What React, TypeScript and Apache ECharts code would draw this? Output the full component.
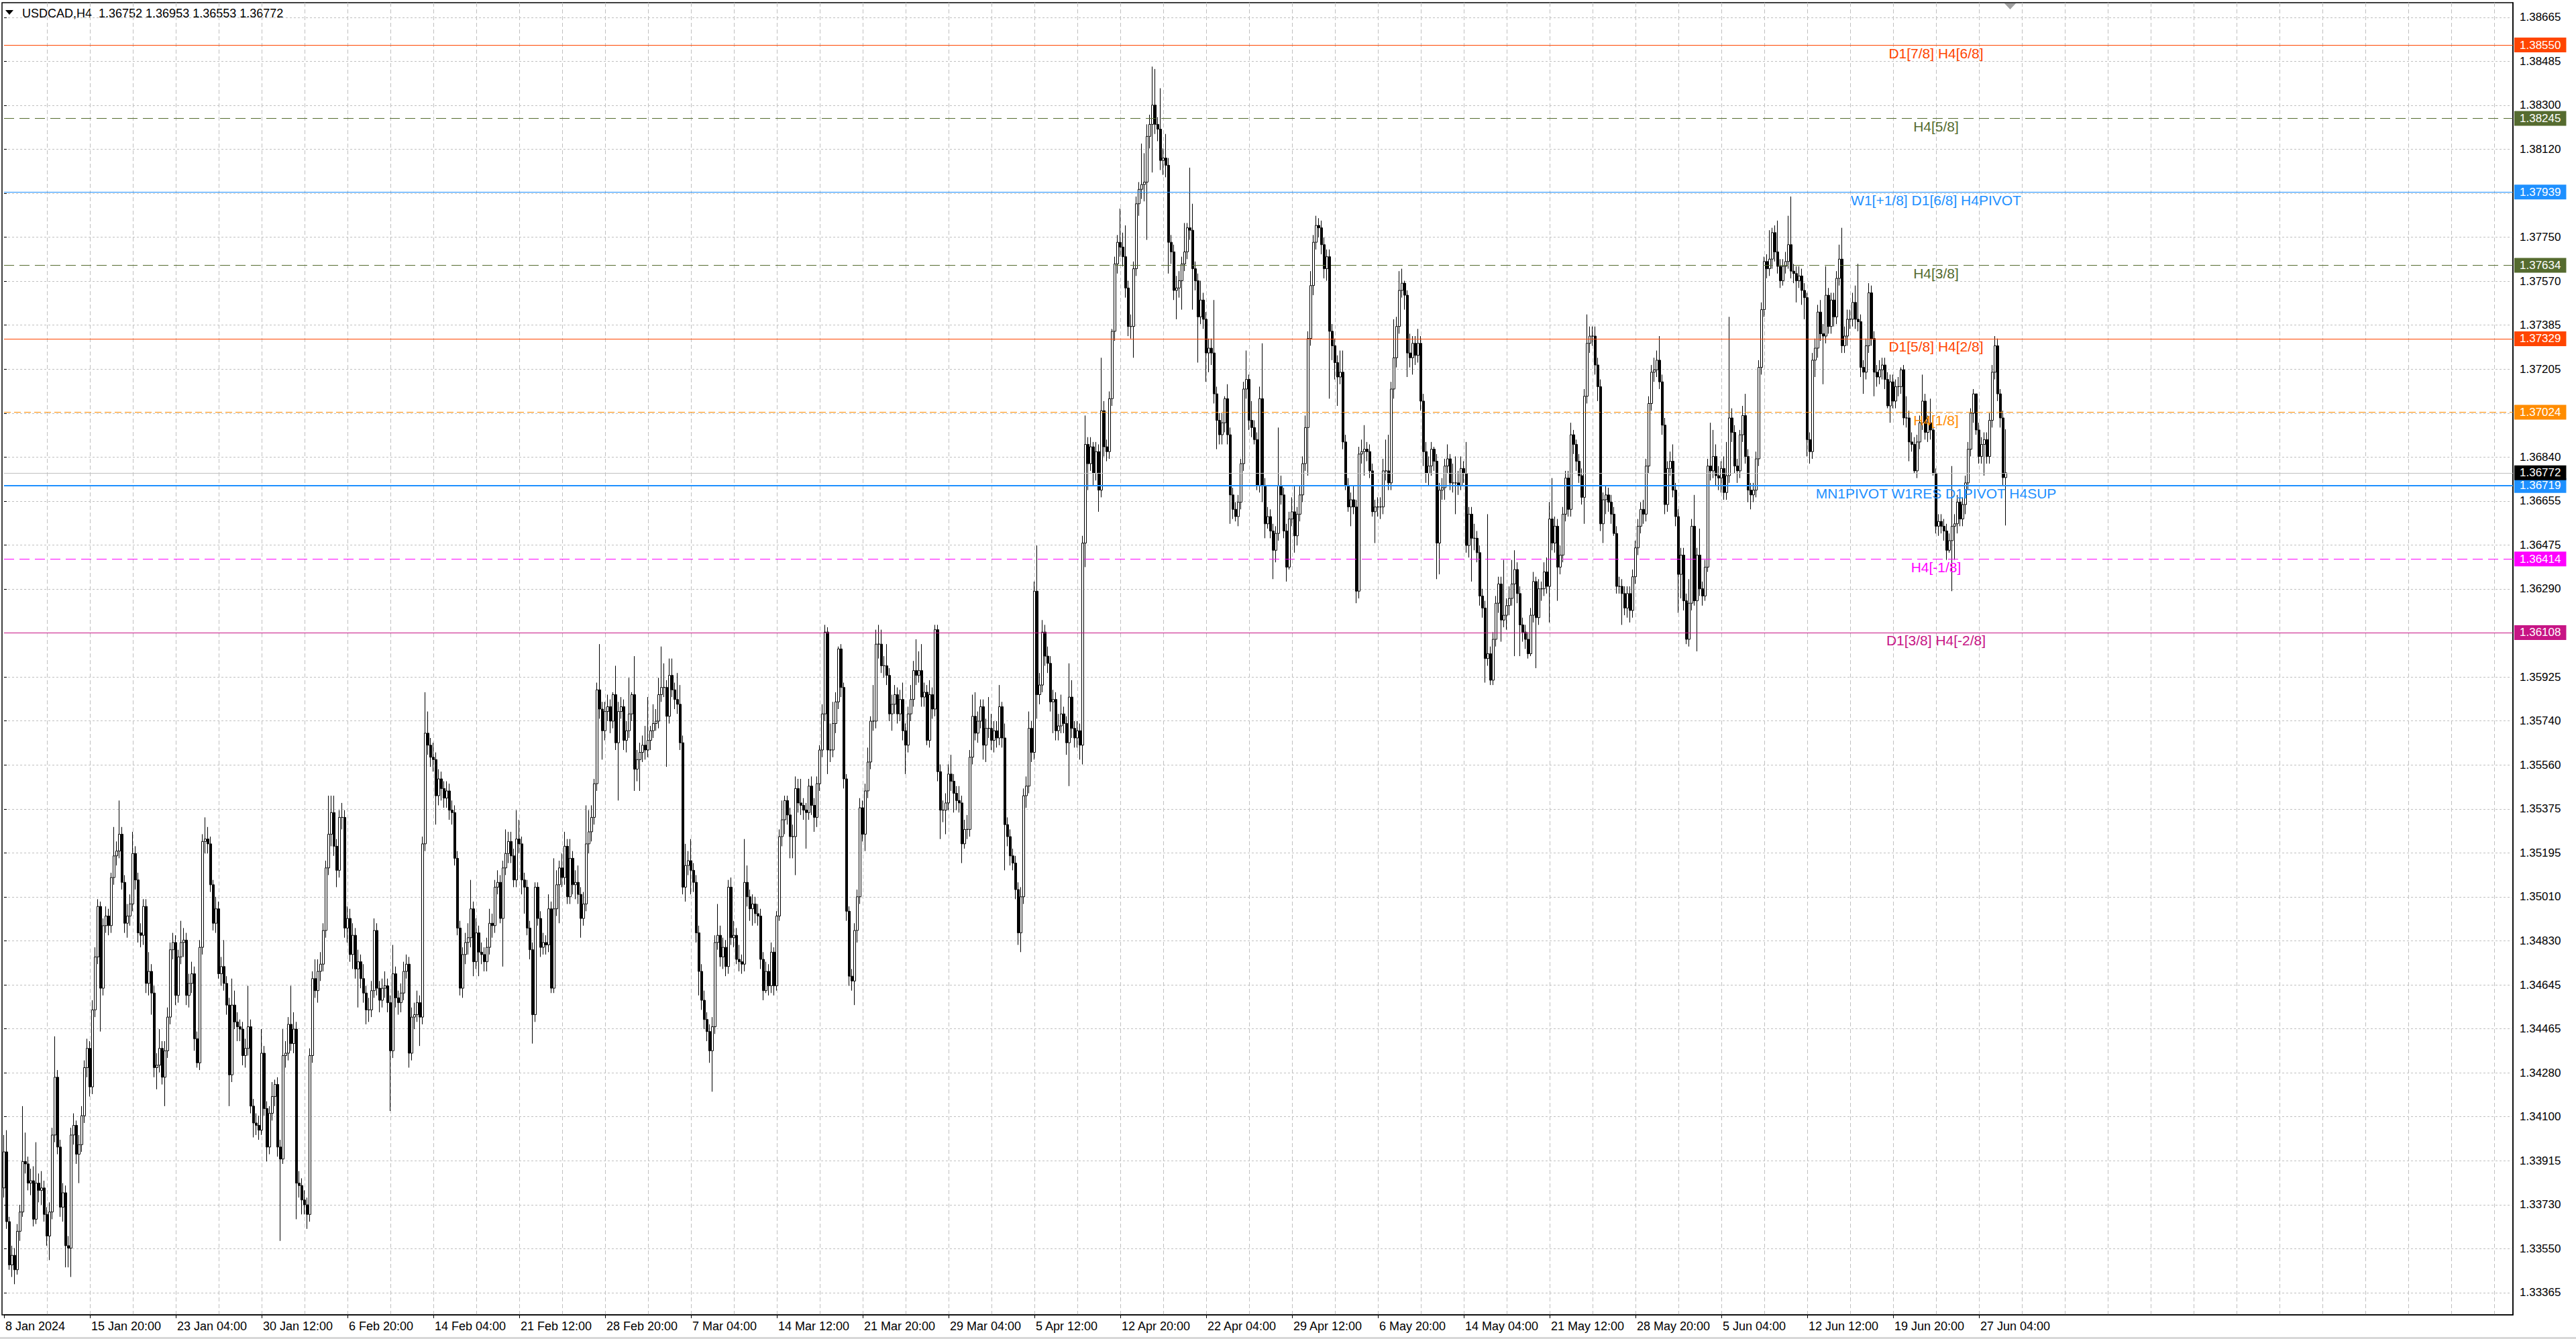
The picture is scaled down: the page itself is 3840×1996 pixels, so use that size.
import { useEffect, useRef } from "react";
import * as echarts from "echarts";

const FONT = "'Liberation Sans', Arial, sans-serif";

// USDCAD H4 bars, 8 Jan - 28 Jun 2024. Open of each bar = previous close.
const firstOpen = 1.338;
const closes = [
  1.3395, 1.3366, 1.3348, 1.3352, 1.3346, 1.3362, 1.337, 1.3391, 1.339, 1.3382,
  1.3383, 1.3367, 1.3382, 1.3379, 1.338, 1.3369, 1.336, 1.337, 1.3402, 1.3426,
  1.3397, 1.3372, 1.3378, 1.3356, 1.3355, 1.3402, 1.3406, 1.3394, 1.3398, 1.341,
  1.343, 1.3438, 1.3422, 1.3454, 1.3476, 1.3497, 1.3463, 1.3489, 1.3493, 1.3489,
  1.3509, 1.3518, 1.352, 1.3527, 1.3507, 1.349, 1.3493, 1.3498, 1.3519, 1.3508,
  1.3486, 1.3485, 1.3497, 1.3465, 1.347, 1.3461, 1.343, 1.3431, 1.3438, 1.3426,
  1.3437, 1.3451, 1.3479, 1.3482, 1.346, 1.3476, 1.3482, 1.3483, 1.346, 1.3465,
  1.3469, 1.3442, 1.3432, 1.348, 1.3524, 1.3525, 1.3523, 1.3506, 1.349, 1.3496,
  1.3469, 1.3472, 1.3465, 1.3456, 1.3427, 1.3456, 1.3449, 1.3447, 1.3446, 1.3435,
  1.3438, 1.3447, 1.3414, 1.3407, 1.3406, 1.3404, 1.3436, 1.3413, 1.3397, 1.3411,
  1.3418, 1.3423, 1.3397, 1.3392, 1.3435, 1.3436, 1.3448, 1.344, 1.3446, 1.3382,
  1.3381, 1.3375, 1.3373, 1.3369, 1.3435, 1.3467, 1.3462, 1.347, 1.3473, 1.3487,
  1.3513, 1.3527, 1.3536, 1.3522, 1.3512, 1.3534, 1.3534, 1.3488, 1.3492, 1.3477,
  1.3485, 1.3471, 1.3474, 1.3467, 1.3461, 1.3454, 1.3454, 1.3462, 1.3487, 1.3463,
  1.3458, 1.3463, 1.3464, 1.3457, 1.3437, 1.3469, 1.3459, 1.3457, 1.3461, 1.347,
  1.3473, 1.3436, 1.3451, 1.3452, 1.3457, 1.3451, 1.3523, 1.3569, 1.3564, 1.3559,
  1.3558, 1.3543, 1.355, 1.3546, 1.3542, 1.3545, 1.3537, 1.3536, 1.3517, 1.3488,
  1.3463, 1.3477, 1.3482, 1.3484, 1.3496, 1.3474, 1.3486, 1.3478, 1.3477, 1.3474,
  1.348, 1.349, 1.3489, 1.3505, 1.3507, 1.3492, 1.3513, 1.3519, 1.3524, 1.3518,
  1.3508, 1.3525, 1.3523, 1.3508, 1.3505, 1.3488, 1.3479, 1.3452, 1.3505, 1.3492,
  1.348, 1.3482, 1.3481, 1.3496, 1.3463, 1.3496, 1.3506, 1.3513, 1.3509, 1.3522,
  1.3501, 1.3517, 1.3506, 1.3507, 1.3502, 1.3492, 1.3498, 1.3523, 1.3528, 1.3534,
  1.3548, 1.3587, 1.3579, 1.357, 1.3578, 1.358, 1.3574, 1.3585, 1.3565, 1.3578,
  1.358, 1.3566, 1.357, 1.3577, 1.3585, 1.3554, 1.3558, 1.3561, 1.3564, 1.3562,
  1.3566, 1.357, 1.3573, 1.3574, 1.3585, 1.3588, 1.3588, 1.3576, 1.3593, 1.3587,
  1.3583, 1.3581, 1.3565, 1.3505, 1.3514, 1.3516, 1.3512, 1.3507, 1.3486, 1.347,
  1.3458, 1.345, 1.3445, 1.3437, 1.3447, 1.3482, 1.3485, 1.3476, 1.348, 1.3472,
  1.3505, 1.3484, 1.3485, 1.3475, 1.3474, 1.3473, 1.3507, 1.3501, 1.3496, 1.3498,
  1.3494, 1.3493, 1.3475, 1.3462, 1.347, 1.3464, 1.3478, 1.3464, 1.3493, 1.3526,
  1.3533, 1.3541, 1.3535, 1.3526, 1.3526, 1.3546, 1.354, 1.3539, 1.3537, 1.3536,
  1.3547, 1.3539, 1.3534, 1.3548, 1.3562, 1.3577, 1.3611, 1.3562, 1.3562, 1.3573,
  1.3582, 1.3604, 1.3588, 1.355, 1.3495, 1.3468, 1.3466, 1.3487, 1.3501, 1.3538,
  1.3527, 1.3545, 1.3557, 1.3574, 1.3574, 1.3606, 1.3606, 1.3597, 1.3597, 1.3593,
  1.3577, 1.3581, 1.3585, 1.3577, 1.3583, 1.357, 1.3564, 1.3577, 1.3583, 1.3595,
  1.3593, 1.3595, 1.3584, 1.3586, 1.3566, 1.3585, 1.3579, 1.3612, 1.3553, 1.3537,
  1.3537, 1.354, 1.3552, 1.3549, 1.3544, 1.3541, 1.354, 1.3523, 1.3529, 1.3529,
  1.3559, 1.3576, 1.3569, 1.3574, 1.358, 1.3564, 1.3571, 1.3571, 1.3566, 1.357,
  1.3567, 1.358, 1.3567, 1.3531, 1.3526, 1.3518, 1.3515, 1.3504, 1.3486, 1.3501,
  1.3543, 1.3547, 1.3571, 1.3561, 1.3628, 1.3585, 1.3589, 1.3611, 1.3601, 1.3598,
  1.3582, 1.3583, 1.357, 1.3572, 1.3577, 1.3573, 1.3565, 1.3584, 1.3571, 1.3567,
  1.357, 1.3564, 1.3648, 1.3689, 1.3681, 1.3688, 1.3677, 1.3686, 1.367, 1.3703,
  1.3688, 1.3686, 1.3708, 1.3736, 1.3764, 1.3773, 1.3771, 1.3767, 1.3754, 1.3738,
  1.3738, 1.3762, 1.3789, 1.3795, 1.3797, 1.3798, 1.3817, 1.3822, 1.383, 1.3822,
  1.382, 1.3807, 1.3808, 1.3805, 1.3773, 1.3769, 1.3753, 1.3754, 1.3757, 1.3764,
  1.3769, 1.3779, 1.3778, 1.3762, 1.3757, 1.3742, 1.3749, 1.3741, 1.3727, 1.3729,
  1.3727, 1.371, 1.3699, 1.3693, 1.3698, 1.3708, 1.3693, 1.3668, 1.3662, 1.3659,
  1.3665, 1.3681, 1.3712, 1.3716, 1.3699, 1.3696, 1.3691, 1.3672, 1.3708, 1.3672,
  1.3656, 1.3659, 1.3653, 1.3645, 1.3652, 1.3672, 1.3668, 1.3653, 1.3638, 1.3658,
  1.3661, 1.3651, 1.366, 1.3668, 1.3681, 1.3696, 1.3733, 1.3755, 1.3773, 1.378,
  1.3779, 1.3772, 1.3762, 1.3767, 1.3736, 1.373, 1.3723, 1.3717, 1.3719, 1.369,
  1.3672, 1.3663, 1.3666, 1.3663, 1.3628, 1.3685, 1.3686, 1.3687, 1.3686, 1.3678,
  1.3661, 1.3663, 1.3663, 1.3663, 1.3678, 1.3678, 1.3673, 1.3712, 1.3725, 1.3738,
  1.3753, 1.3756, 1.3751, 1.3727, 1.3725, 1.3731, 1.3726, 1.3731, 1.3707, 1.3686,
  1.3677, 1.368, 1.3687, 1.3682, 1.3648, 1.367, 1.3671, 1.368, 1.3683, 1.3673,
  1.3673, 1.3673, 1.3672, 1.3679, 1.3677, 1.3647, 1.366, 1.365, 1.365, 1.3644,
  1.3626, 1.3621, 1.36, 1.3602, 1.3591, 1.3608, 1.3623, 1.3631, 1.3616, 1.3618,
  1.3622, 1.3625, 1.3631, 1.3637, 1.3627, 1.3614, 1.3611, 1.3608, 1.3602, 1.3618,
  1.3632, 1.3617, 1.3629, 1.3629, 1.3636, 1.363, 1.3658, 1.3648, 1.3655, 1.3638,
  1.3643, 1.366, 1.3675, 1.3662, 1.3693, 1.3689, 1.3682, 1.3676, 1.3667, 1.3709,
  1.3731, 1.3734, 1.3734, 1.3722, 1.3713, 1.3656, 1.3666, 1.3668, 1.3665, 1.366,
  1.3652, 1.363, 1.363, 1.3627, 1.3621, 1.3627, 1.362, 1.3634, 1.3646, 1.3655,
  1.3662, 1.366, 1.368, 1.3706, 1.3719, 1.372, 1.3724, 1.3715, 1.3697, 1.3664,
  1.3679, 1.3682, 1.367, 1.3659, 1.3635, 1.3643, 1.3624, 1.3608, 1.3623, 1.3655,
  1.3624, 1.3643, 1.3629, 1.3626, 1.3638, 1.368, 1.3678, 1.3684, 1.3676, 1.3675,
  1.3679, 1.3669, 1.3676, 1.37, 1.3694, 1.368, 1.3678, 1.3693, 1.3701, 1.3684,
  1.367, 1.3668, 1.367, 1.3683, 1.3721, 1.3745, 1.3765, 1.3762, 1.3766, 1.3777,
  1.3769, 1.3763, 1.3757, 1.3763, 1.3765, 1.3772, 1.3761, 1.376, 1.3757, 1.3759,
  1.3753, 1.375, 1.3691, 1.3686, 1.3724, 1.3729, 1.3744, 1.3735, 1.3734, 1.3751,
  1.3738, 1.3749, 1.3742, 1.3758, 1.3766, 1.373, 1.3734, 1.3741, 1.3741, 1.3748,
  1.3741, 1.374, 1.3721, 1.3719, 1.373, 1.3752, 1.3733, 1.3719, 1.3717, 1.372,
  1.3722, 1.3716, 1.3705, 1.3715, 1.3707, 1.3713, 1.3713, 1.372, 1.37, 1.37,
  1.369, 1.3689, 1.3678, 1.369, 1.3698, 1.3707, 1.3694, 1.3698, 1.3695, 1.3677,
  1.3655, 1.3657, 1.3655, 1.3653, 1.3645, 1.3649, 1.3655, 1.3656, 1.3665, 1.3658,
  1.3664, 1.3673, 1.3687, 1.3702, 1.371, 1.3695, 1.3684, 1.3689, 1.3691, 1.3684,
  1.3699, 1.3719, 1.373, 1.371, 1.37, 1.36752, 1.36772,
];
const highs = [
  1.3402, 1.3404, 1.3368, 1.3356, 1.3355, 1.3365, 1.3373, 1.3414, 1.3403, 1.3393,
  1.3388, 1.3389, 1.3399, 1.3386, 1.3387, 1.3383, 1.3372, 1.3374, 1.3405, 1.3443,
  1.3429, 1.34, 1.3382, 1.3381, 1.336, 1.3405, 1.3411, 1.3408, 1.3402, 1.3414,
  1.3433, 1.3442, 1.3441, 1.3458, 1.348, 1.35, 1.3499, 1.3492, 1.3497, 1.3496,
  1.3511, 1.353, 1.3524, 1.3541, 1.353, 1.351, 1.3498, 1.3502, 1.3528, 1.3522,
  1.3511, 1.349, 1.35, 1.35, 1.3478, 1.3473, 1.3464, 1.3436, 1.3446, 1.3441,
  1.3441, 1.3455, 1.3482, 1.3486, 1.3485, 1.3479, 1.3491, 1.3488, 1.3486, 1.3469,
  1.3474, 1.3472, 1.3445, 1.3483, 1.3527, 1.3534, 1.353, 1.3526, 1.3508, 1.3501,
  1.3499, 1.3476, 1.3483, 1.3468, 1.3459, 1.3467, 1.3462, 1.3453, 1.345, 1.3449,
  1.3442, 1.3464, 1.345, 1.3417, 1.3411, 1.341, 1.3446, 1.3439, 1.3416, 1.3414,
  1.3424, 1.3425, 1.3426, 1.34, 1.3446, 1.3441, 1.3451, 1.3464, 1.3453, 1.3449,
  1.3387, 1.3384, 1.3379, 1.3376, 1.3438, 1.347, 1.3475, 1.3475, 1.3478, 1.349,
  1.3516, 1.3543, 1.3543, 1.3543, 1.3525, 1.3537, 1.354, 1.3537, 1.3497, 1.3496,
  1.349, 1.3488, 1.3479, 1.3477, 1.3473, 1.3464, 1.3459, 1.3466, 1.3492, 1.349,
  1.3466, 1.3467, 1.347, 1.3467, 1.346, 1.3481, 1.3472, 1.3462, 1.3465, 1.3474,
  1.3477, 1.3476, 1.3455, 1.3457, 1.3462, 1.346, 1.3526, 1.3586, 1.3578, 1.3567,
  1.3565, 1.3561, 1.3554, 1.3553, 1.3549, 1.3549, 1.3548, 1.3541, 1.3539, 1.352,
  1.3491, 1.348, 1.3486, 1.349, 1.3508, 1.3499, 1.3492, 1.3489, 1.3482, 1.348,
  1.3484, 1.3496, 1.3494, 1.3508, 1.3512, 1.351, 1.3516, 1.3529, 1.3528, 1.3528,
  1.3521, 1.3537, 1.3533, 1.3526, 1.3511, 1.3508, 1.3491, 1.3482, 1.3507, 1.3507,
  1.3495, 1.3486, 1.3485, 1.3502, 1.3499, 1.3517, 1.3512, 1.3516, 1.3519, 1.3528,
  1.3525, 1.3525, 1.352, 1.3512, 1.3514, 1.3505, 1.3503, 1.3539, 1.3537, 1.3539,
  1.355, 1.359, 1.3606, 1.3582, 1.3582, 1.3585, 1.3583, 1.3586, 1.3597, 1.3582,
  1.3584, 1.3583, 1.3574, 1.3592, 1.3586, 1.3601, 1.3562, 1.3565, 1.3568, 1.3572,
  1.3584, 1.3572, 1.3581, 1.3579, 1.3592, 1.3605, 1.3598, 1.3591, 1.36, 1.36,
  1.359, 1.3594, 1.3589, 1.3568, 1.3523, 1.352, 1.3525, 1.3515, 1.351, 1.3489,
  1.3473, 1.3462, 1.3453, 1.3448, 1.3451, 1.3485, 1.3498, 1.3489, 1.3484, 1.3483,
  1.3508, 1.3509, 1.3491, 1.3488, 1.3481, 1.3477, 1.3525, 1.3514, 1.3504, 1.3502,
  1.3501, 1.3498, 1.3496, 1.3478, 1.3474, 1.3473, 1.3482, 1.348, 1.3495, 1.3529,
  1.3541, 1.3543, 1.3543, 1.3538, 1.3531, 1.3551, 1.355, 1.355, 1.3542, 1.354,
  1.355, 1.3551, 1.3542, 1.3551, 1.3564, 1.3581, 1.3614, 1.3613, 1.3573, 1.3582,
  1.3586, 1.3605, 1.3606, 1.359, 1.3552, 1.3497, 1.3471, 1.349, 1.3504, 1.3542,
  1.3541, 1.3548, 1.3563, 1.3576, 1.3589, 1.3612, 1.3614, 1.3612, 1.3601, 1.3606,
  1.3596, 1.3585, 1.3589, 1.3588, 1.3587, 1.359, 1.3573, 1.358, 1.3589, 1.3599,
  1.3608, 1.3603, 1.3606, 1.359, 1.3589, 1.3591, 1.3588, 1.3614, 1.3614, 1.3556,
  1.3541, 1.3544, 1.3556, 1.356, 1.3552, 1.3547, 1.3547, 1.3543, 1.3533, 1.3535,
  1.3562, 1.3585, 1.3586, 1.3578, 1.3583, 1.3583, 1.3575, 1.3584, 1.3577, 1.3574,
  1.3574, 1.3589, 1.3582, 1.3573, 1.3534, 1.3529, 1.3521, 1.3518, 1.3507, 1.3505,
  1.3546, 1.3551, 1.3578, 1.3574, 1.3632, 1.3647, 1.3594, 1.3616, 1.3614, 1.3605,
  1.3601, 1.3587, 1.3586, 1.3577, 1.3585, 1.358, 1.3576, 1.3598, 1.3591, 1.3574,
  1.3574, 1.3573, 1.3651, 1.3701, 1.3692, 1.3692, 1.369, 1.369, 1.3689, 1.3725,
  1.3707, 1.3691, 1.3711, 1.3737, 1.3767, 1.3776, 1.3787, 1.3777, 1.378, 1.3757,
  1.3743, 1.3765, 1.3792, 1.3798, 1.3814, 1.381, 1.3822, 1.3826, 1.3846, 1.3845,
  1.3825, 1.3837, 1.3812, 1.3818, 1.3808, 1.3776, 1.3772, 1.3759, 1.3761, 1.3767,
  1.3781, 1.3781, 1.3804, 1.3789, 1.3765, 1.376, 1.3757, 1.3752, 1.3744, 1.3733,
  1.3733, 1.3749, 1.3713, 1.3702, 1.3702, 1.3709, 1.3714, 1.3696, 1.3671, 1.3665,
  1.3668, 1.3683, 1.3715, 1.3728, 1.3718, 1.3707, 1.3699, 1.3694, 1.3713, 1.3731,
  1.3675, 1.3663, 1.3662, 1.3656, 1.3655, 1.3696, 1.3676, 1.3671, 1.3656, 1.3661,
  1.3667, 1.3672, 1.3663, 1.3672, 1.3684, 1.3701, 1.3736, 1.3761, 1.3776, 1.3784,
  1.3783, 1.3782, 1.3775, 1.377, 1.377, 1.3739, 1.3733, 1.3726, 1.3728, 1.3728,
  1.3693, 1.3675, 1.3669, 1.3672, 1.3666, 1.3688, 1.3691, 1.3697, 1.369, 1.3689,
  1.3681, 1.3666, 1.3667, 1.3667, 1.3683, 1.3691, 1.3693, 1.3715, 1.3741, 1.3742,
  1.3761, 1.3762, 1.3757, 1.3753, 1.3735, 1.3734, 1.3734, 1.3737, 1.3734, 1.371,
  1.369, 1.3684, 1.369, 1.3688, 1.3685, 1.3673, 1.3675, 1.3683, 1.3689, 1.3685,
  1.3681, 1.3684, 1.3678, 1.3684, 1.3682, 1.369, 1.3663, 1.3663, 1.3656, 1.3653,
  1.3647, 1.3629, 1.3624, 1.366, 1.3605, 1.3611, 1.3626, 1.3634, 1.3634, 1.3641,
  1.3625, 1.363, 1.3641, 1.3645, 1.364, 1.363, 1.3617, 1.3614, 1.3611, 1.3621,
  1.3636, 1.3634, 1.3633, 1.3632, 1.364, 1.3642, 1.3665, 1.3675, 1.3659, 1.3658,
  1.3647, 1.3663, 1.3678, 1.3678, 1.3698, 1.3695, 1.3691, 1.3685, 1.3679, 1.3712,
  1.3743, 1.3738, 1.3738, 1.3738, 1.3725, 1.3716, 1.3669, 1.3672, 1.3671, 1.3668,
  1.3663, 1.3655, 1.3634, 1.3633, 1.363, 1.363, 1.363, 1.3637, 1.3649, 1.3658,
  1.3665, 1.3666, 1.3683, 1.3709, 1.3722, 1.3725, 1.3728, 1.3734, 1.3718, 1.37,
  1.3682, 1.3686, 1.3689, 1.3673, 1.3662, 1.3646, 1.3646, 1.3627, 1.3633, 1.3658,
  1.3668, 1.3646, 1.3654, 1.3632, 1.3641, 1.3683, 1.3698, 1.3695, 1.3689, 1.368,
  1.3682, 1.3684, 1.369, 1.3742, 1.3704, 1.3697, 1.3683, 1.3695, 1.3705, 1.371,
  1.3687, 1.3673, 1.3673, 1.3686, 1.3724, 1.3748, 1.3767, 1.3768, 1.3778, 1.3779,
  1.378, 1.3782, 1.3766, 1.3766, 1.3769, 1.3784, 1.3792, 1.3764, 1.3763, 1.3763,
  1.3762, 1.3756, 1.3752, 1.3694, 1.3727, 1.3733, 1.3747, 1.3749, 1.3739, 1.3763,
  1.3754, 1.3752, 1.3752, 1.3761, 1.3772, 1.3779, 1.3738, 1.3745, 1.3745, 1.3752,
  1.3755, 1.3764, 1.3743, 1.3724, 1.3733, 1.3756, 1.3755, 1.3736, 1.3722, 1.3724,
  1.3725, 1.3725, 1.3719, 1.3718, 1.3718, 1.3716, 1.3717, 1.3721, 1.3722, 1.3709,
  1.3703, 1.3694, 1.3692, 1.3693, 1.3701, 1.3718, 1.371, 1.3701, 1.3708, 1.3697,
  1.3679, 1.366, 1.366, 1.3658, 1.3656, 1.3652, 1.368, 1.366, 1.3668, 1.3668,
  1.3667, 1.3676, 1.369, 1.3704, 1.3712, 1.371, 1.3698, 1.3692, 1.3694, 1.3694,
  1.3702, 1.3722, 1.3734, 1.3733, 1.3712, 1.3703, 1.36953,
];
const lows = [
  1.3376, 1.3363, 1.3346, 1.3343, 1.334, 1.3344, 1.3358, 1.3368, 1.3386, 1.3379,
  1.3377, 1.3364, 1.3365, 1.3374, 1.3373, 1.3366, 1.3356, 1.335, 1.3367, 1.3399,
  1.3394, 1.3368, 1.3366, 1.3347, 1.3347, 1.3343, 1.3398, 1.339, 1.3382, 1.3395,
  1.3407, 1.3426, 1.3418, 1.3419, 1.3451, 1.3473, 1.3445, 1.346, 1.3486, 1.3485,
  1.3486, 1.3506, 1.3514, 1.3517, 1.3504, 1.3486, 1.3484, 1.3489, 1.3495, 1.3504,
  1.3482, 1.348, 1.3481, 1.3461, 1.346, 1.3452, 1.3426, 1.3421, 1.3428, 1.3423,
  1.3414, 1.3434, 1.3448, 1.3475, 1.3456, 1.3457, 1.3473, 1.3476, 1.3456, 1.3455,
  1.3461, 1.3437, 1.343, 1.3429, 1.3477, 1.3519, 1.3519, 1.3503, 1.3487, 1.3486,
  1.3467, 1.3464, 1.3462, 1.3452, 1.3414, 1.3424, 1.3446, 1.3441, 1.3441, 1.3431,
  1.343, 1.3435, 1.3411, 1.3401, 1.3402, 1.34, 1.3402, 1.341, 1.3391, 1.3394,
  1.3408, 1.3414, 1.3393, 1.3358, 1.339, 1.343, 1.3433, 1.3437, 1.3436, 1.3367,
  1.3376, 1.3369, 1.3369, 1.3363, 1.3366, 1.3432, 1.3459, 1.3457, 1.3466, 1.347,
  1.3484, 1.351, 1.3522, 1.3518, 1.3505, 1.3509, 1.3529, 1.3484, 1.3482, 1.3474,
  1.3471, 1.3467, 1.3455, 1.3463, 1.3457, 1.3448, 1.3449, 1.3451, 1.3459, 1.346,
  1.3453, 1.3455, 1.3459, 1.3453, 1.3412, 1.3434, 1.3455, 1.3452, 1.3453, 1.3458,
  1.3467, 1.343, 1.3433, 1.3446, 1.3449, 1.3439, 1.3448, 1.352, 1.356, 1.3555,
  1.3553, 1.3531, 1.3539, 1.3541, 1.3538, 1.3538, 1.3533, 1.3531, 1.3514, 1.3485,
  1.346, 1.3459, 1.3473, 1.3477, 1.348, 1.3468, 1.3471, 1.3468, 1.3473, 1.347,
  1.347, 1.3477, 1.3484, 1.3486, 1.3502, 1.349, 1.3472, 1.351, 1.3515, 1.3515,
  1.3505, 1.3505, 1.3519, 1.3502, 1.3494, 1.3485, 1.3475, 1.344, 1.3449, 1.3489,
  1.3476, 1.3477, 1.3477, 1.3478, 1.3461, 1.3461, 1.3493, 1.349, 1.3505, 1.3506,
  1.3498, 1.3498, 1.3502, 1.35, 1.3498, 1.3484, 1.3489, 1.3495, 1.3519, 1.3524,
  1.3531, 1.3545, 1.3575, 1.3558, 1.3566, 1.3574, 1.3569, 1.3571, 1.3562, 1.3541,
  1.3575, 1.3562, 1.3561, 1.3567, 1.3574, 1.3545, 1.3549, 1.3545, 1.3557, 1.3558,
  1.3559, 1.3562, 1.3567, 1.357, 1.3571, 1.3582, 1.3584, 1.3555, 1.3573, 1.3584,
  1.3579, 1.3577, 1.3562, 1.3502, 1.3499, 1.351, 1.3502, 1.3503, 1.3482, 1.346,
  1.3454, 1.3446, 1.3441, 1.3432, 1.342, 1.3444, 1.3479, 1.3472, 1.3471, 1.3468,
  1.3469, 1.3481, 1.348, 1.3473, 1.347, 1.3469, 1.347, 1.3497, 1.3491, 1.3489,
  1.349, 1.3489, 1.3471, 1.3458, 1.3461, 1.346, 1.3461, 1.346, 1.3462, 1.3491,
  1.3522, 1.3527, 1.3531, 1.3517, 1.3517, 1.351, 1.3536, 1.3535, 1.3533, 1.3521,
  1.3533, 1.3535, 1.3528, 1.353, 1.3545, 1.3559, 1.3574, 1.3552, 1.3557, 1.3559,
  1.3569, 1.3579, 1.3584, 1.3546, 1.3491, 1.3464, 1.3462, 1.3456, 1.3482, 1.3498,
  1.3524, 1.352, 1.3542, 1.3554, 1.357, 1.3571, 1.36, 1.3594, 1.3592, 1.3589,
  1.3574, 1.357, 1.3577, 1.3573, 1.3574, 1.3566, 1.3552, 1.3561, 1.3574, 1.358,
  1.3589, 1.359, 1.358, 1.358, 1.3564, 1.3563, 1.3575, 1.3576, 1.3549, 1.3525,
  1.3532, 1.3527, 1.3537, 1.3545, 1.3536, 1.3537, 1.3536, 1.3515, 1.3521, 1.3525,
  1.3526, 1.3556, 1.3566, 1.3565, 1.3571, 1.3558, 1.3557, 1.3567, 1.3562, 1.3561,
  1.3563, 1.3564, 1.3563, 1.3512, 1.3522, 1.3514, 1.3512, 1.35, 1.3481, 1.3478,
  1.3498, 1.3538, 1.3544, 1.3557, 1.3558, 1.3575, 1.3581, 1.3586, 1.3597, 1.3594,
  1.3578, 1.3569, 1.3566, 1.3566, 1.3569, 1.3569, 1.356, 1.3547, 1.3567, 1.3563,
  1.3563, 1.3558, 1.3556, 1.3638, 1.367, 1.3678, 1.3672, 1.3674, 1.3661, 1.3667,
  1.3684, 1.3682, 1.3683, 1.3705, 1.3732, 1.376, 1.3767, 1.3763, 1.375, 1.3734,
  1.3733, 1.3725, 1.3759, 1.3784, 1.3791, 1.379, 1.3774, 1.3812, 1.3802, 1.3818,
  1.3815, 1.3803, 1.3801, 1.38, 1.376, 1.3764, 1.3749, 1.3741, 1.375, 1.3745,
  1.3761, 1.3766, 1.3774, 1.3745, 1.3753, 1.3723, 1.3739, 1.3737, 1.3715, 1.3719,
  1.3722, 1.3706, 1.3687, 1.3689, 1.3689, 1.3694, 1.3689, 1.3656, 1.3658, 1.3657,
  1.3655, 1.3662, 1.3678, 1.3708, 1.3695, 1.3692, 1.3689, 1.367, 1.3669, 1.3665,
  1.365, 1.3654, 1.365, 1.3633, 1.364, 1.3649, 1.3664, 1.365, 1.3632, 1.3637,
  1.3655, 1.3644, 1.3647, 1.3657, 1.3665, 1.3678, 1.3676, 1.373, 1.3751, 1.377,
  1.3775, 1.3768, 1.3758, 1.3757, 1.3708, 1.3724, 1.3716, 1.3705, 1.3714, 1.3687,
  1.367, 1.3661, 1.3655, 1.366, 1.3623, 1.3625, 1.3681, 1.3676, 1.3682, 1.3675,
  1.3659, 1.3648, 1.3659, 1.3658, 1.366, 1.3674, 1.367, 1.367, 1.3708, 1.3721,
  1.3735, 1.375, 1.3745, 1.3717, 1.3721, 1.3718, 1.3722, 1.3723, 1.3703, 1.368,
  1.3673, 1.3672, 1.3676, 1.3678, 1.3633, 1.3635, 1.3666, 1.3666, 1.3677, 1.367,
  1.3669, 1.366, 1.3668, 1.367, 1.3673, 1.3644, 1.3642, 1.3632, 1.3645, 1.364,
  1.3622, 1.3617, 1.359, 1.3597, 1.3589, 1.3589, 1.3605, 1.3619, 1.3607, 1.3613,
  1.3612, 1.3618, 1.3622, 1.3601, 1.3623, 1.3601, 1.3607, 1.3604, 1.36, 1.3601,
  1.3615, 1.3596, 1.3614, 1.3624, 1.3626, 1.3627, 1.3615, 1.3645, 1.3644, 1.3624,
  1.3635, 1.364, 1.3657, 1.3659, 1.3659, 1.3685, 1.3678, 1.3673, 1.3664, 1.3656,
  1.3706, 1.3727, 1.373, 1.3718, 1.3707, 1.3653, 1.3648, 1.366, 1.3661, 1.3656,
  1.3651, 1.3627, 1.3627, 1.3614, 1.3618, 1.3617, 1.3615, 1.3617, 1.3631, 1.3643,
  1.3652, 1.3656, 1.3657, 1.3677, 1.3703, 1.3715, 1.3717, 1.3712, 1.3693, 1.366,
  1.3661, 1.3676, 1.3667, 1.3655, 1.3619, 1.3625, 1.362, 1.3606, 1.3605, 1.362,
  1.3622, 1.3603, 1.3626, 1.3622, 1.3624, 1.3636, 1.3674, 1.3675, 1.3672, 1.367,
  1.3669, 1.3666, 1.3666, 1.3673, 1.369, 1.3677, 1.3673, 1.3675, 1.369, 1.3681,
  1.3665, 1.3662, 1.3665, 1.3667, 1.368, 1.3718, 1.3742, 1.3758, 1.3759, 1.3762,
  1.3765, 1.376, 1.3754, 1.3755, 1.376, 1.3762, 1.3758, 1.3756, 1.3748, 1.3754,
  1.3747, 1.3741, 1.3684, 1.3681, 1.3683, 1.3717, 1.3725, 1.3732, 1.3714, 1.3731,
  1.3735, 1.3735, 1.3738, 1.3739, 1.3755, 1.3727, 1.3727, 1.373, 1.3737, 1.3738,
  1.3737, 1.3736, 1.3717, 1.371, 1.3716, 1.3727, 1.373, 1.3709, 1.3713, 1.3714,
  1.3716, 1.3712, 1.3704, 1.3698, 1.3704, 1.3704, 1.3709, 1.371, 1.3697, 1.3696,
  1.3682, 1.3686, 1.3677, 1.3675, 1.3687, 1.3695, 1.3691, 1.369, 1.3691, 1.3676,
  1.3652, 1.3651, 1.3652, 1.3649, 1.3641, 1.3644, 1.3628, 1.3641, 1.3652, 1.3655,
  1.3655, 1.366, 1.367, 1.3684, 1.3698, 1.3693, 1.3681, 1.3681, 1.3676, 1.3681,
  1.3681, 1.3696, 1.3716, 1.3707, 1.3696, 1.3672, 1.36553,
];

const timeLabels = [
  "8 Jan 2024", "15 Jan 20:00", "23 Jan 04:00", "30 Jan 12:00", "6 Feb 20:00",
  "14 Feb 04:00", "21 Feb 12:00", "28 Feb 20:00", "7 Mar 04:00", "14 Mar 12:00",
  "21 Mar 20:00", "29 Mar 04:00", "5 Apr 12:00", "12 Apr 20:00", "22 Apr 04:00",
  "29 Apr 12:00", "6 May 20:00", "14 May 04:00", "21 May 12:00", "28 May 20:00",
  "5 Jun 04:00", "12 Jun 12:00", "19 Jun 20:00", "27 Jun 04:00",
];
const timeLabelBars = [
  0, 32, 64, 96, 128, 160, 192, 224, 256, 288, 320, 352, 384, 416, 448, 480,
  512, 544, 576, 608, 640, 672, 704, 736,
];

const priceTickLabels = [
  "1.33365", "1.33550", "1.33730", "1.33915", "1.34100", "1.34280", "1.34465",
  "1.34645", "1.34830", "1.35010", "1.35195", "1.35375", "1.35560", "1.35740",
  "1.35925", "1.36110", "1.36290", "1.36475", "1.36655", "1.36840", "1.37020",
  "1.37205", "1.37385", "1.37570", "1.37750", "1.37935", "1.38120", "1.38300",
  "1.38485", "1.38665",
];

const levelPrices = [1.3855, 1.38245, 1.37939, 1.37634, 1.37329, 1.37024, 1.36719, 1.36414, 1.36108];
const levelNames = [
  "D1[7/8] H4[6/8]", "H4[5/8]", "W1[+1/8] D1[6/8] H4PIVOT", "H4[3/8]", "D1[5/8] H4[2/8]",
  "H4[1/8]", "MN1PIVOT W1RES D1PIVOT H4SUP", "H4[-1/8]", "D1[3/8] H4[-2/8]",
];
const levelColors = ["#FF4500", "#556B2F", "#1E90FF", "#556B2F", "#FF4500", "#FF8C00", "#1E90FF", "#FF00FF", "#C71585"];
const levelDashes: (string | number[])[] = ["solid", [15, 8], "solid", [15, 8], "solid", [10, 5], "solid", [15, 8], "solid"];
const levelWidths = [1, 1, 1, 1, 1, 1, 2, 1, 1];

const bidPrice = 1.36772;
const titleText = "USDCAD,H4  1.36752 1.36953 1.36553 1.36772";

const SLOTS = 936;
const TEXT_BAR = 720;
const TICK_MIN = 1.33365;
const TICK_MAX = 1.38665;
const TICK_STEP = (TICK_MAX - TICK_MIN) / 29;

const App = () => {
  const chartRef = useRef<HTMLDivElement>(null);

  useEffect(() => {
    if (!chartRef.current) return;
    const chart = echarts.init(chartRef.current, undefined, { renderer: "svg" });

    const candles = closes.map((c, i) => {
      const o = i === 0 ? firstOpen : closes[i - 1];
      return [o, c, Math.min(lows[i], o, c), Math.max(highs[i], o, c)];
    });
    const categories = Array.from({ length: SLOTS }, (_, i) => String(i));
    const labelAt = new Map(timeLabelBars.map((b, k) => [b, timeLabels[k]]));

    const boxLabel = (text: string, bg: string) => ({
      show: true,
      position: "end",
      distance: 2,
      formatter: text,
      color: "#fff",
      backgroundColor: bg,
      padding: [3, 8, 2, 8],
      fontSize: 17,
      fontFamily: FONT,
    });

    const markLines: any[] = levelPrices.map((p, k) => ({
      yAxis: p,
      lineStyle: { color: levelColors[k], type: levelDashes[k], width: levelWidths[k] },
      label: boxLabel(p.toFixed(5), levelColors[k]),
    }));
    markLines.push({
      yAxis: bidPrice,
      lineStyle: { color: "#C0C0C0", type: "solid", width: 1 },
      label: boxLabel(bidPrice.toFixed(5), "#000000"),
    });

    const markPoints = levelPrices.map((p, k) => ({
      coord: [TEXT_BAR, p],
      symbol: "circle",
      symbolSize: 1,
      itemStyle: { color: "rgba(0,0,0,0)" },
      label: {
        show: true,
        position: "bottom",
        distance: 1,
        formatter: levelNames[k],
        color: levelColors[k],
        fontSize: 21,
        fontFamily: FONT,
      },
    }));

    const option: any = {
      animation: false,
      backgroundColor: "#ffffff",
      textStyle: { fontFamily: FONT },
      grid: [
        { left: 6, right: 94, top: 4, bottom: 36 },
        { left: 6, right: 94, top: 25.75, bottom: 69.1 },
      ],
      xAxis: [
        {
          type: "category",
          gridIndex: 0,
          data: categories,
          boundaryGap: false,
          axisLine: { show: true, lineStyle: { color: "#000", width: 1.5 } },
          axisTick: {
            show: true,
            length: 5,
            interval: (i: number) => labelAt.has(i),
            lineStyle: { color: "#000" },
          },
          axisLabel: {
            show: true,
            interval: (i: number) => labelAt.has(i),
            formatter: (_v: string, i: number) => labelAt.get(i) ?? "",
            align: "left",
            padding: [0, 0, 0, 2],
            margin: 8,
            color: "#000",
            fontSize: 18,
            fontFamily: FONT,
          },
          splitLine: {
            show: true,
            interval: (i: number) => i > 0 && i % 16 === 0,
            lineStyle: { color: "#C0C0C0", type: [6, 4], width: 1 },
          },
        },
        { type: "value", gridIndex: 1, show: false, min: 0, max: 1 },
      ],
      yAxis: [
        {
          type: "value",
          gridIndex: 0,
          position: "right",
          min: 1.3327261,
          max: 1.3872564,
          axisLine: { show: true, lineStyle: { color: "#000", width: 1.5 } },
          axisTick: { show: false },
          axisLabel: { show: false },
          splitLine: { show: false },
        },
        {
          type: "value",
          gridIndex: 1,
          position: "right",
          min: TICK_MIN,
          max: TICK_MAX,
          interval: TICK_STEP,
          axisLine: { show: false },
          axisTick: { show: true, length: 4, lineStyle: { color: "#000" } },
          axisLabel: {
            show: true,
            margin: 10,
            color: "#000",
            fontSize: 17,
            fontFamily: FONT,
            formatter: (v: number) => priceTickLabels[Math.round((v - TICK_MIN) / TICK_STEP)] ?? "",
          },
          splitLine: { show: true, lineStyle: { color: "#C0C0C0", type: [3, 3], width: 1 } },
        },
      ],
      graphic: [
        {
          type: "rect",
          shape: { x: 3, y: 4, width: 3743, height: 1956 },
          style: { fill: "none", stroke: "#000", lineWidth: 1.5 },
          silent: true,
        },
        {
          type: "rect",
          shape: { x: 0, y: 1993, width: 3840, height: 3 },
          style: { fill: "#D8D8D8" },
          silent: true,
        },
        {
          type: "polygon",
          shape: { points: [[8, 15], [20, 15], [14, 22]] },
          style: { fill: "#000" },
          silent: true,
        },
        {
          type: "text",
          x: 33,
          y: 11,
          style: { text: titleText, fill: "#000", fontSize: 18, fontFamily: FONT },
          silent: true,
        },
        {
          type: "polygon",
          shape: { points: [[2988, 5], [3005, 5], [2996.5, 14]] },
          style: { fill: "#A0A0A0" },
          silent: true,
        },
      ],
      series: [
        {
          type: "line",
          xAxisIndex: 0,
          yAxisIndex: 0,
          data: [],
          clip: false,
          silent: true,
          z: 2,
          markLine: { symbol: ["none", "none"], precision: 5, silent: true, data: markLines },
          markPoint: { silent: true, data: markPoints },
        },
        {
          type: "candlestick",
          xAxisIndex: 0,
          yAxisIndex: 0,
          data: candles,
          barWidth: 3,
          large: false,
          silent: true,
          z: 3,
          itemStyle: {
            color: "#ffffff",
            color0: "#000000",
            borderColor: "#000000",
            borderColor0: "#000000",
            borderWidth: 1,
          },
        },
      ],
    };

    chart.setOption(option);

    return () => {
      chart.dispose();
    };
  }, []);

  return (
    <div
      ref={chartRef}
      style={{ position: "fixed", left: 0, top: 0, width: 3840, height: 1996, background: "#fff" }}
    />
  );
};

export default App;
